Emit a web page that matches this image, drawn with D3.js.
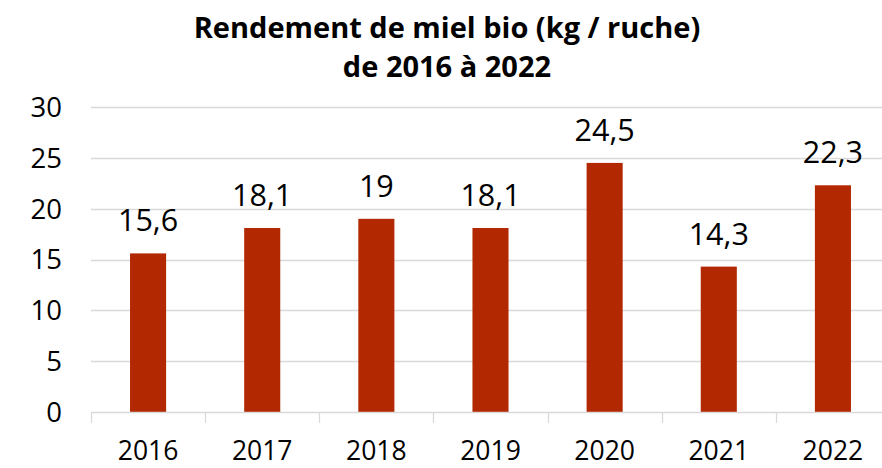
<!DOCTYPE html>
<html>
<head>
<meta charset="utf-8">
<script src="https://cdn.jsdelivr.net/npm/d3@7"></script>
<style>
  body { margin: 0; background: #fff; }
  text { font-family: "Open Sans", sans-serif; fill: #000; }
</style>
</head>
<body>
<div id="chart"></div>
<script>
// Data.
const years = ["2016", "2017", "2018", "2019", "2020", "2021", "2022"];
const yields = [15.6, 18.1, 19, 18.1, 24.5, 14.3, 22.3];
const yTicks = [0, 5, 10, 15, 20, 25, 30];
const titleLines = ["Rendement de miel bio (kg / ruche)", "de 2016 à 2022"];

const W = 882, H = 468;
const plot = { left: 91, right: 890, top: 107, bottom: 412 };

const svg = d3.select("#chart")
    .append("svg")
        .attr("width", W)
        .attr("height", H);

const x = d3.scaleBand()
    .domain(years)
    .range([plot.left, plot.right])
    .paddingInner(0.684)
    .paddingOuter(0.342);

const y = d3.scaleLinear()
    .domain([0, 30])
    .range([plot.bottom, plot.top]);

// Gridlines
svg.append("g")
    .selectAll("line")
    .data(yTicks.filter(d => d > 0))
    .join("line")
        .attr("x1", plot.left)
        .attr("x2", plot.right)
        .attr("y1", d => Math.round(y(d)) + 0.5)
        .attr("y2", d => Math.round(y(d)) + 0.5)
        .attr("stroke", "#d9d9d9")
        .attr("stroke-width", 1.3);

// Y axis labels
svg.append("g")
    .selectAll("text")
    .data(yTicks)
    .join("text")
        .attr("x", 62)
        .attr("y", d => y(d))
        .attr("dy", "0.36em")
        .attr("text-anchor", "end")
        .style("font-size", "27.5px")
        .text(d => d);

// Bars
svg.append("g")
    .selectAll("rect")
    .data(years)
    .join("rect")
        .attr("x", d => x(d))
        .attr("y", (d, i) => y(yields[i]))
        .attr("width", x.bandwidth())
        .attr("height", (d, i) => y(0) - y(yields[i]))
        .attr("fill", "#b22800");

// Value labels
svg.append("g")
    .selectAll("text")
    .data(years)
    .join("text")
        .attr("x", d => x(d) + x.bandwidth() / 2)
        .attr("y", (d, i) => y(yields[i]) - 22)
        .attr("text-anchor", "middle")
        .style("font-size", "30.5px")
        .text((d, i) => String(yields[i]).replace(".", ","));

// X axis line and ticks
const step = x.step();
svg.append("line")
    .attr("x1", plot.left)
    .attr("x2", plot.right)
    .attr("y1", plot.bottom + 0.5)
    .attr("y2", plot.bottom + 0.5)
    .attr("stroke", "#d9d9d9")
    .attr("stroke-width", 1.3);

svg.append("g")
    .selectAll("line")
    .data(d3.range(years.length + 1))
    .join("line")
        .attr("x1", i => Math.round(plot.left + i * step) + 0.5)
        .attr("x2", i => Math.round(plot.left + i * step) + 0.5)
        .attr("y1", plot.bottom)
        .attr("y2", plot.bottom + 11)
        .attr("stroke", "#d9d9d9")
        .attr("stroke-width", 1.3);

// X axis labels
svg.append("g")
    .selectAll("text")
    .data(years)
    .join("text")
        .attr("x", d => x(d) + x.bandwidth() / 2)
        .attr("y", 460)
        .attr("text-anchor", "middle")
        .style("font-size", "26.5px")
        .text(d => d);

// Title
svg.append("g")
    .selectAll("text")
    .data(titleLines)
    .join("text")
        .attr("x", 447)
        .attr("y", (d, i) => 38 + i * 39)
        .attr("text-anchor", "middle")
        .style("font-size", "29px")
        .style("font-weight", "bold")
        .text(d => d);
</script>
</body>
</html>
